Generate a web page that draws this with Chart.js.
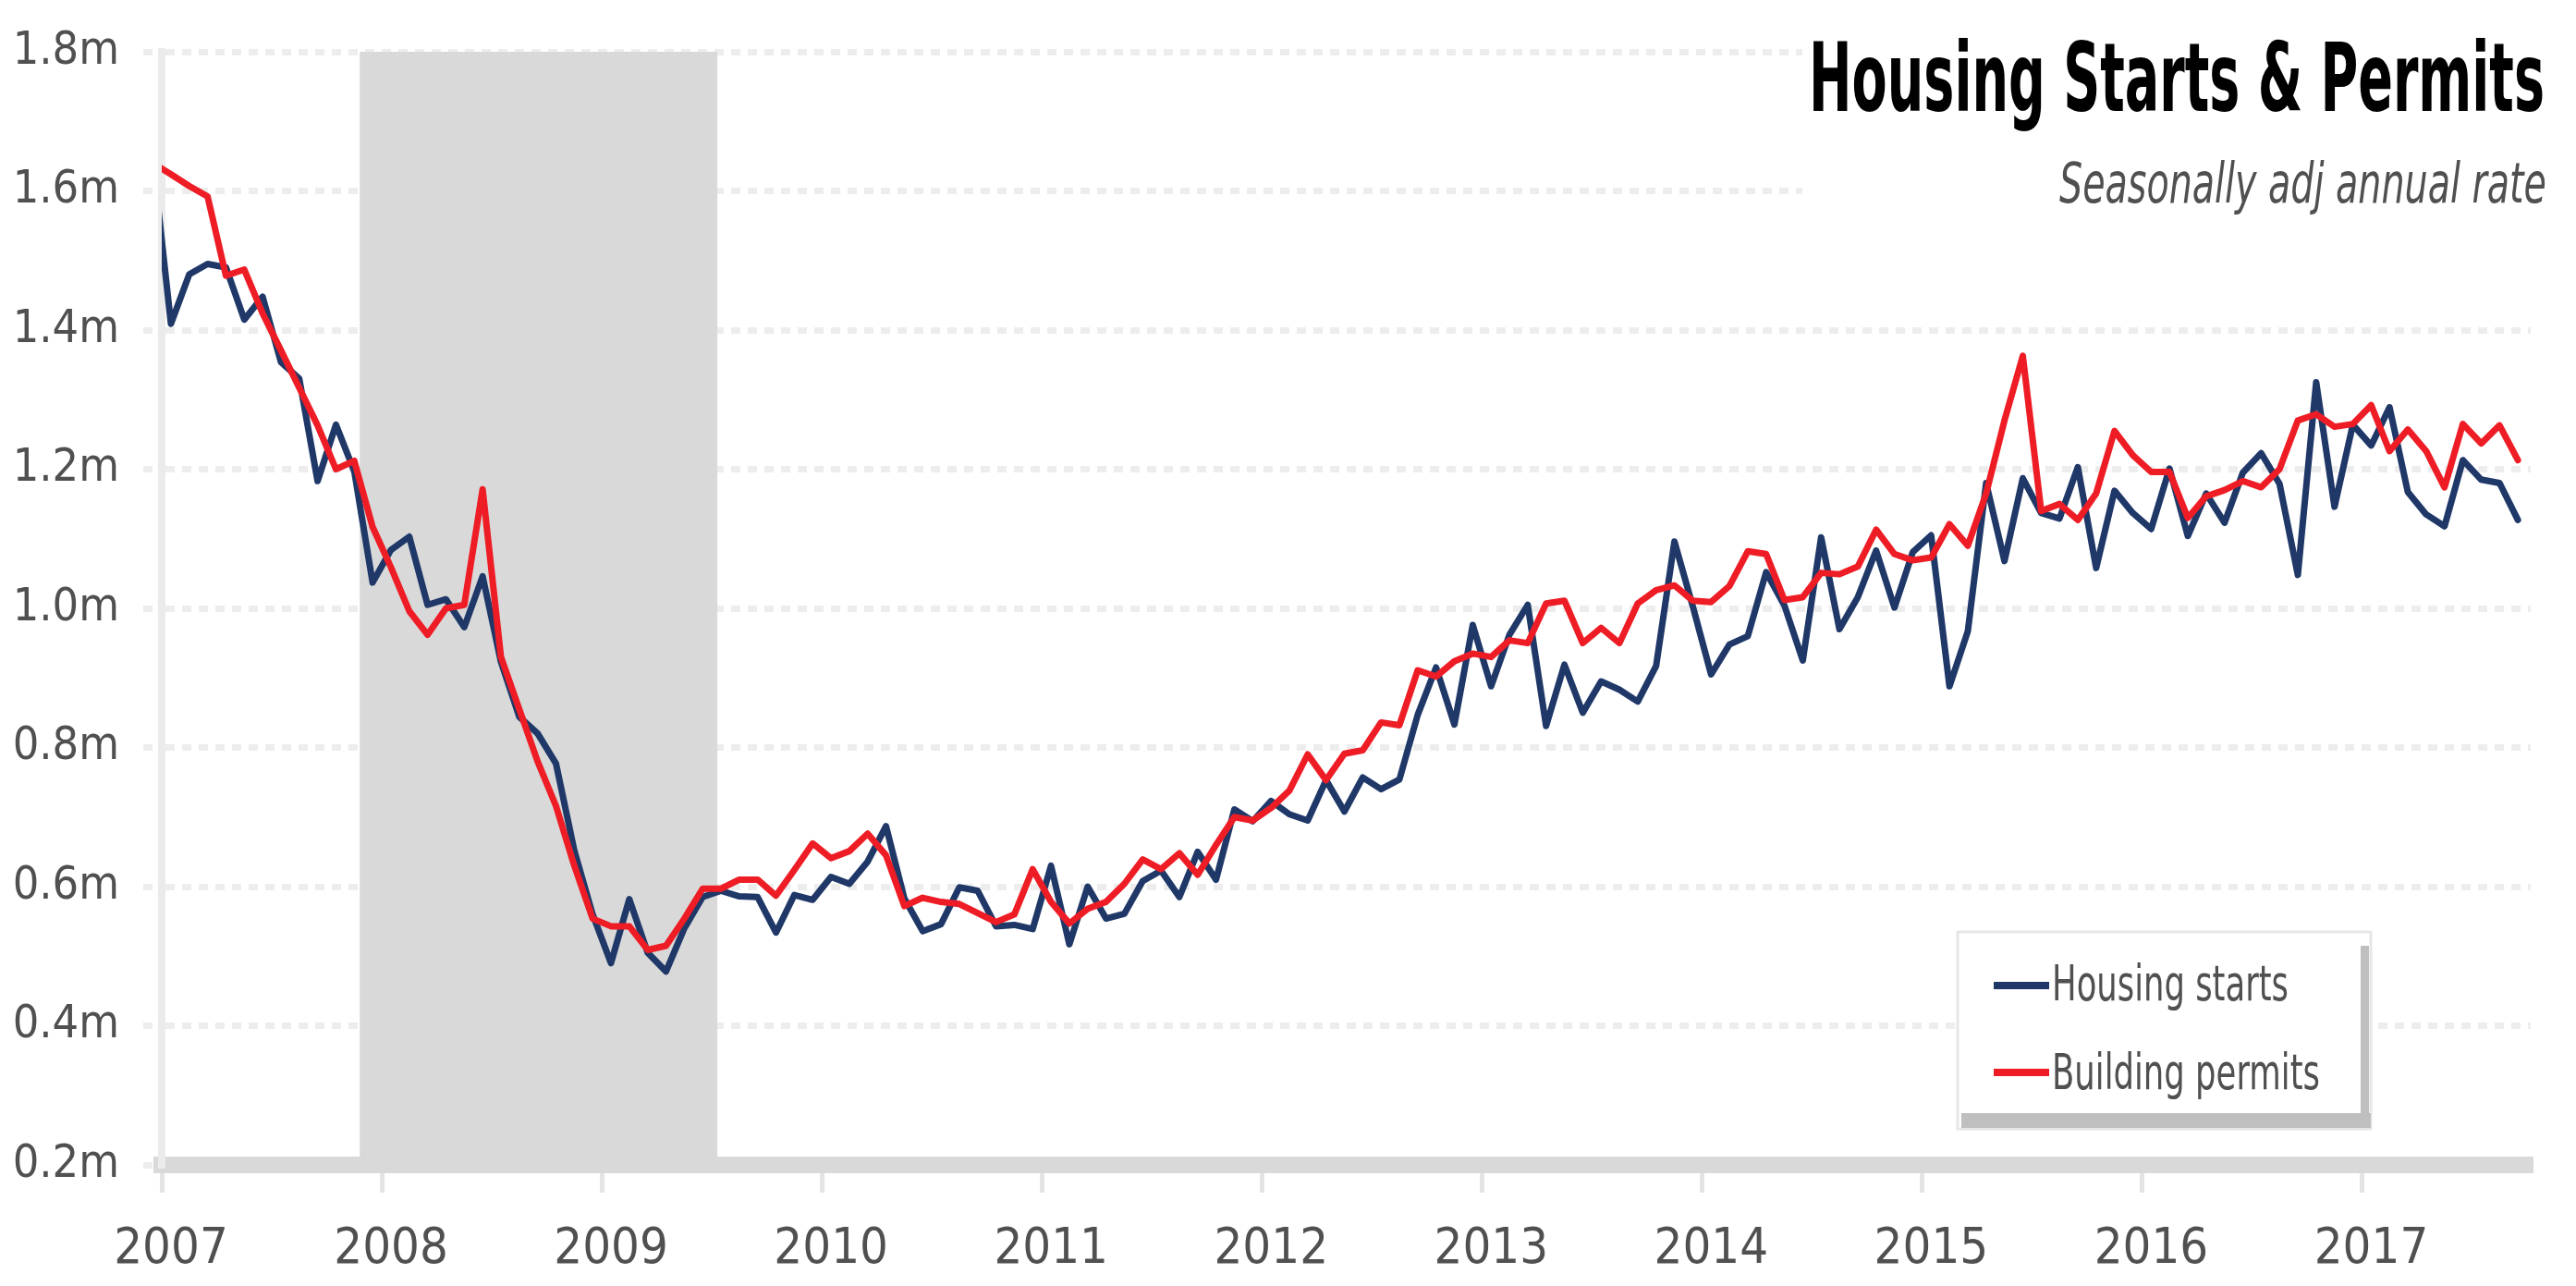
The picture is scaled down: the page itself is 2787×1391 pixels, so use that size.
<!DOCTYPE html>
<html lang="en">
<head>
<meta charset="utf-8">
<title>Housing Starts &amp; Permits</title>
<script src="https://cdn.jsdelivr.net/npm/chart.js@4.4.0/dist/chart.umd.min.js"></script>
<style>
  html, body { margin: 0; padding: 0; background: #ffffff; }
  #housing-chart { display: block; }
</style>
</head>
<body>
<canvas id="housing-chart" width="2787" height="1391"></canvas>
<script>
// Monthly series, millions of units (SAAR). First value is Dec 2006, last is Sep 2017.
const firstMonth = { year: 2006, month: 11 };

const housingStarts = [
  1.649,
  // 2007
  1.409, 1.480, 1.495, 1.490, 1.415, 1.448, 1.354, 1.330, 1.183, 1.264, 1.197, 1.037,
  // 2008
  1.084, 1.103, 1.005, 1.013, 0.973, 1.046, 0.923, 0.844, 0.820, 0.777, 0.652, 0.560,
  // 2009
  0.490, 0.582, 0.505, 0.478, 0.540, 0.585, 0.594, 0.586, 0.585, 0.534, 0.588, 0.581,
  // 2010
  0.614, 0.604, 0.636, 0.687, 0.583, 0.536, 0.546, 0.599, 0.594, 0.543, 0.545, 0.539,
  // 2011
  0.630, 0.517, 0.600, 0.554, 0.561, 0.608, 0.623, 0.585, 0.650, 0.610, 0.711, 0.694,
  // 2012
  0.723, 0.704, 0.695, 0.753, 0.708, 0.757, 0.740, 0.754, 0.847, 0.915, 0.833, 0.976,
  // 2013
  0.888, 0.962, 1.005, 0.831, 0.919, 0.850, 0.895, 0.883, 0.866, 0.917, 1.096, 1.003,
  // 2014
  0.905, 0.948, 0.960, 1.052, 1.004, 0.925, 1.102, 0.970, 1.016, 1.083, 1.001, 1.081,
  // 2015
  1.105, 0.888, 0.967, 1.180, 1.068, 1.187, 1.137, 1.129, 1.203, 1.058, 1.169, 1.137,
  // 2016
  1.114, 1.201, 1.104, 1.165, 1.123, 1.195, 1.223, 1.179, 1.048, 1.325, 1.146, 1.264,
  // 2017
  1.234, 1.289, 1.167, 1.135, 1.118, 1.213, 1.185, 1.180, 1.127
];

const buildingPermits = [
  1.640,
  // 2007
  1.624, 1.607, 1.592, 1.478, 1.487, 1.424, 1.371, 1.317, 1.263, 1.200, 1.212, 1.117,
  // 2008
  1.059, 0.996, 0.962, 1.000, 1.005, 1.171, 0.930, 0.855, 0.780, 0.716, 0.630, 0.554,
  // 2009
  0.543, 0.543, 0.509, 0.515, 0.554, 0.597, 0.597, 0.610, 0.610, 0.587, 0.624, 0.662,
  // 2010
  0.641, 0.651, 0.676, 0.645, 0.572, 0.584, 0.578, 0.575, 0.562, 0.549, 0.560, 0.625,
  // 2011
  0.578, 0.547, 0.568, 0.578, 0.604, 0.639, 0.625, 0.648, 0.617, 0.660, 0.700, 0.695,
  // 2012
  0.713, 0.738, 0.790, 0.753, 0.791, 0.796, 0.836, 0.832, 0.911, 0.902, 0.924, 0.935,
  // 2013
  0.930, 0.954, 0.950, 1.007, 1.011, 0.950, 0.972, 0.950, 1.007, 1.026, 1.033, 1.011,
  // 2014
  1.009, 1.032, 1.082, 1.078, 1.012, 1.016, 1.051, 1.049, 1.060, 1.113, 1.078, 1.069,
  // 2015
  1.073, 1.121, 1.090, 1.165, 1.270, 1.363, 1.140, 1.150, 1.127, 1.165, 1.255, 1.220,
  // 2016
  1.196, 1.196, 1.130, 1.161, 1.170, 1.183, 1.174, 1.200, 1.270, 1.279, 1.261, 1.265,
  // 2017
  1.292, 1.226, 1.257, 1.226, 1.174, 1.265, 1.237, 1.263, 1.213
];

const yearLabels = ['2007', '2008', '2009', '2010', '2011', '2012', '2013', '2014', '2015', '2016', '2017'];
const yTickValues = [0.2, 0.4, 0.6, 0.8, 1.0, 1.2, 1.4, 1.6, 1.8];

// Recession band, in months counted from Jan 2007
const recessionMonths = [10.8, 30.3];
const axisEndMonth = 129.2;

const chartTitle = 'Housing Starts & Permits';
const chartSubtitle = 'Seasonally adj annual rate';

const FONT = '"Liberation Sans Narrow", "DejaVu Sans Condensed", "Liberation Sans", sans-serif';
const TEXT_GREY = '#505050';

// Month labels, Dec 2006 onwards (only used to key the points)
const monthNames = ['Jan', 'Feb', 'Mar', 'Apr', 'May', 'Jun', 'Jul', 'Aug', 'Sep', 'Oct', 'Nov', 'Dec'];
const monthLabels = housingStarts.map((_, i) => {
  const m = firstMonth.month + i;
  return `${monthNames[m % 12]} ${firstMonth.year + Math.floor(m / 12)}`;
});

// each month sits in the middle of its slot on the axis (Jan 2007 slot = 0..1)
function toPoints(values) {
  return values.map((v, i) => ({ x: i - 0.5, y: v, label: monthLabels[i] }));
}

// Draws text stretched to a given width and cap height
function drawFittedText(ctx, text, opts) {
  ctx.save();
  ctx.font = opts.font;
  ctx.fillStyle = opts.color;
  ctx.textAlign = opts.align || 'left';
  ctx.textBaseline = 'alphabetic';
  const w = ctx.measureText(text).width;
  const cap = ctx.measureText('H').actualBoundingBoxAscent;
  const sx = opts.width ? opts.width / w : 1;
  const sy = opts.capHeight ? opts.capHeight / cap : 1;
  ctx.translate(opts.x, opts.baseline);
  ctx.scale(sx, sy);
  ctx.fillText(text, 0, 0);
  ctx.restore();
}

const recessionShade = {
  id: 'recessionShade',
  beforeDatasetsDraw(chart) {
    const { ctx, chartArea, scales: { x } } = chart;
    const left = x.getPixelForValue(recessionMonths[0]);
    const right = x.getPixelForValue(recessionMonths[1]);
    ctx.save();
    ctx.fillStyle = '#d9d9d9';
    ctx.fillRect(left, chartArea.top, right - left, chartArea.bottom - chartArea.top);
    ctx.restore();
  }
};

const titleBlock = {
  id: 'titleBlock',
  beforeDatasetsDraw(chart) {
    const { ctx, width } = chart;
    ctx.save();
    ctx.fillStyle = '#ffffff';
    ctx.fillRect(1950, 0, width - 1950, 232);
    ctx.restore();

    drawFittedText(ctx, chartTitle, {
      font: `bold 80px ${FONT}`, color: '#000000', align: 'right',
      x: 2753, baseline: 120, width: 796, capHeight: 76
    });
    drawFittedText(ctx, chartSubtitle, {
      font: `italic 54px ${FONT}`, color: TEXT_GREY, align: 'right',
      x: 2755, baseline: 219, width: 527, capHeight: 44
    });
  }
};

const boxedLegend = {
  id: 'boxedLegend',
  afterDatasetsDraw(chart) {
    const { ctx } = chart;
    const box = { left: 2118, top: 1008, right: 2565, bottom: 1221 };

    ctx.save();
    ctx.fillStyle = '#ffffff';
    ctx.fillRect(box.left, box.top, box.right - box.left, box.bottom - box.top);
    ctx.strokeStyle = '#e6e6e6';
    ctx.lineWidth = 3;
    ctx.strokeRect(box.left, box.top, box.right - box.left, box.bottom - box.top);
    // shadow along bottom and right edge
    ctx.fillStyle = '#bfbfbf';
    ctx.fillRect(box.left + 4, box.bottom - 17, box.right - box.left - 4, 16);
    ctx.fillRect(box.right - 11, box.top + 15, 9, box.bottom - box.top - 16);
    ctx.restore();

    const rows = [
      { ds: chart.data.datasets[0], lineY: 1066, baseline: 1082, width: 256 },
      { ds: chart.data.datasets[1], lineY: 1160, baseline: 1178, width: 290 }
    ];
    rows.forEach(row => {
      ctx.save();
      ctx.strokeStyle = row.ds.borderColor;
      ctx.lineWidth = 8;
      ctx.beginPath();
      ctx.moveTo(2157, row.lineY);
      ctx.lineTo(2217, row.lineY);
      ctx.stroke();
      ctx.restore();
      drawFittedText(ctx, row.ds.label, {
        font: `46px ${FONT}`, color: TEXT_GREY,
        x: 2220, baseline: row.baseline, width: row.width, capHeight: 40
      });
    });
  }
};

document.addEventListener('DOMContentLoaded', () => {
  const ctx = document.getElementById('housing-chart');

  window.housingChart = new Chart(ctx, {
    type: 'line',
    data: {
      datasets: [{
        label: 'Housing starts',
        data: toPoints(housingStarts),
        borderColor: '#1f3868',
        borderWidth: 7,
        pointRadius: 0,
        tension: 0,
        borderJoinStyle: 'round',
        borderCapStyle: 'round',
        clip: 0,
        order: 1
      }, {
        label: 'Building permits',
        data: toPoints(buildingPermits),
        borderColor: '#ee1d25',
        borderWidth: 7,
        pointRadius: 0,
        tension: 0,
        borderJoinStyle: 'round',
        borderCapStyle: 'round',
        clip: 0,
        order: 0
      }]
    },
    options: {
      responsive: false,
      animation: false,
      events: [],
      layout: {
        padding: { top: 44, right: 49, bottom: 0, left: 0 }
      },
      plugins: {
        legend: { display: false },
        tooltip: { enabled: false },
        title: { display: false }
      },
      scales: {
        x: {
          type: 'linear',
          min: 0,
          max: axisEndMonth,
          afterFit(scale) { scale.height = 131; },
          afterBuildTicks(scale) {
            scale.ticks = yearLabels.map((_, k) => ({ value: k * 12 }));
          },
          grid: {
            drawOnChartArea: false,
            drawTicks: true,
            tickLength: 30,
            tickColor: '#e4e4e4',
            tickWidth: 5,
            lineWidth: 5
          },
          border: {
            display: true,
            color: '#d9d9d9',
            width: 18
          },
          ticks: {
            autoSkip: false,
            maxRotation: 0,
            padding: 30,
            labelOffset: 10,
            color: TEXT_GREY,
            font: { family: FONT, size: 54 },
            callback: (value, index) => yearLabels[index]
          }
        },
        y: {
          min: 0.2,
          max: 1.8,
          afterFit(scale) { scale.width = 175; },
          afterBuildTicks(scale) {
            scale.ticks = yTickValues.map(v => ({ value: v }));
          },
          grid: {
            color: '#ededed',
            lineWidth: 7,
            tickLength: 20,
            tickColor: '#ededed',
            tickWidth: 7,
            tickBorderDash: [10, 8]
          },
          border: {
            display: true,
            color: '#ebebeb',
            width: 8,
            dash: [10, 8]
          },
          ticks: {
            padding: 26,
            color: TEXT_GREY,
            font: { family: FONT, size: 50 },
            callback: value => value.toFixed(1) + 'm'
          }
        }
      }
    },
    plugins: [recessionShade, titleBlock, boxedLegend]
  });
});
</script>
</body>
</html>
